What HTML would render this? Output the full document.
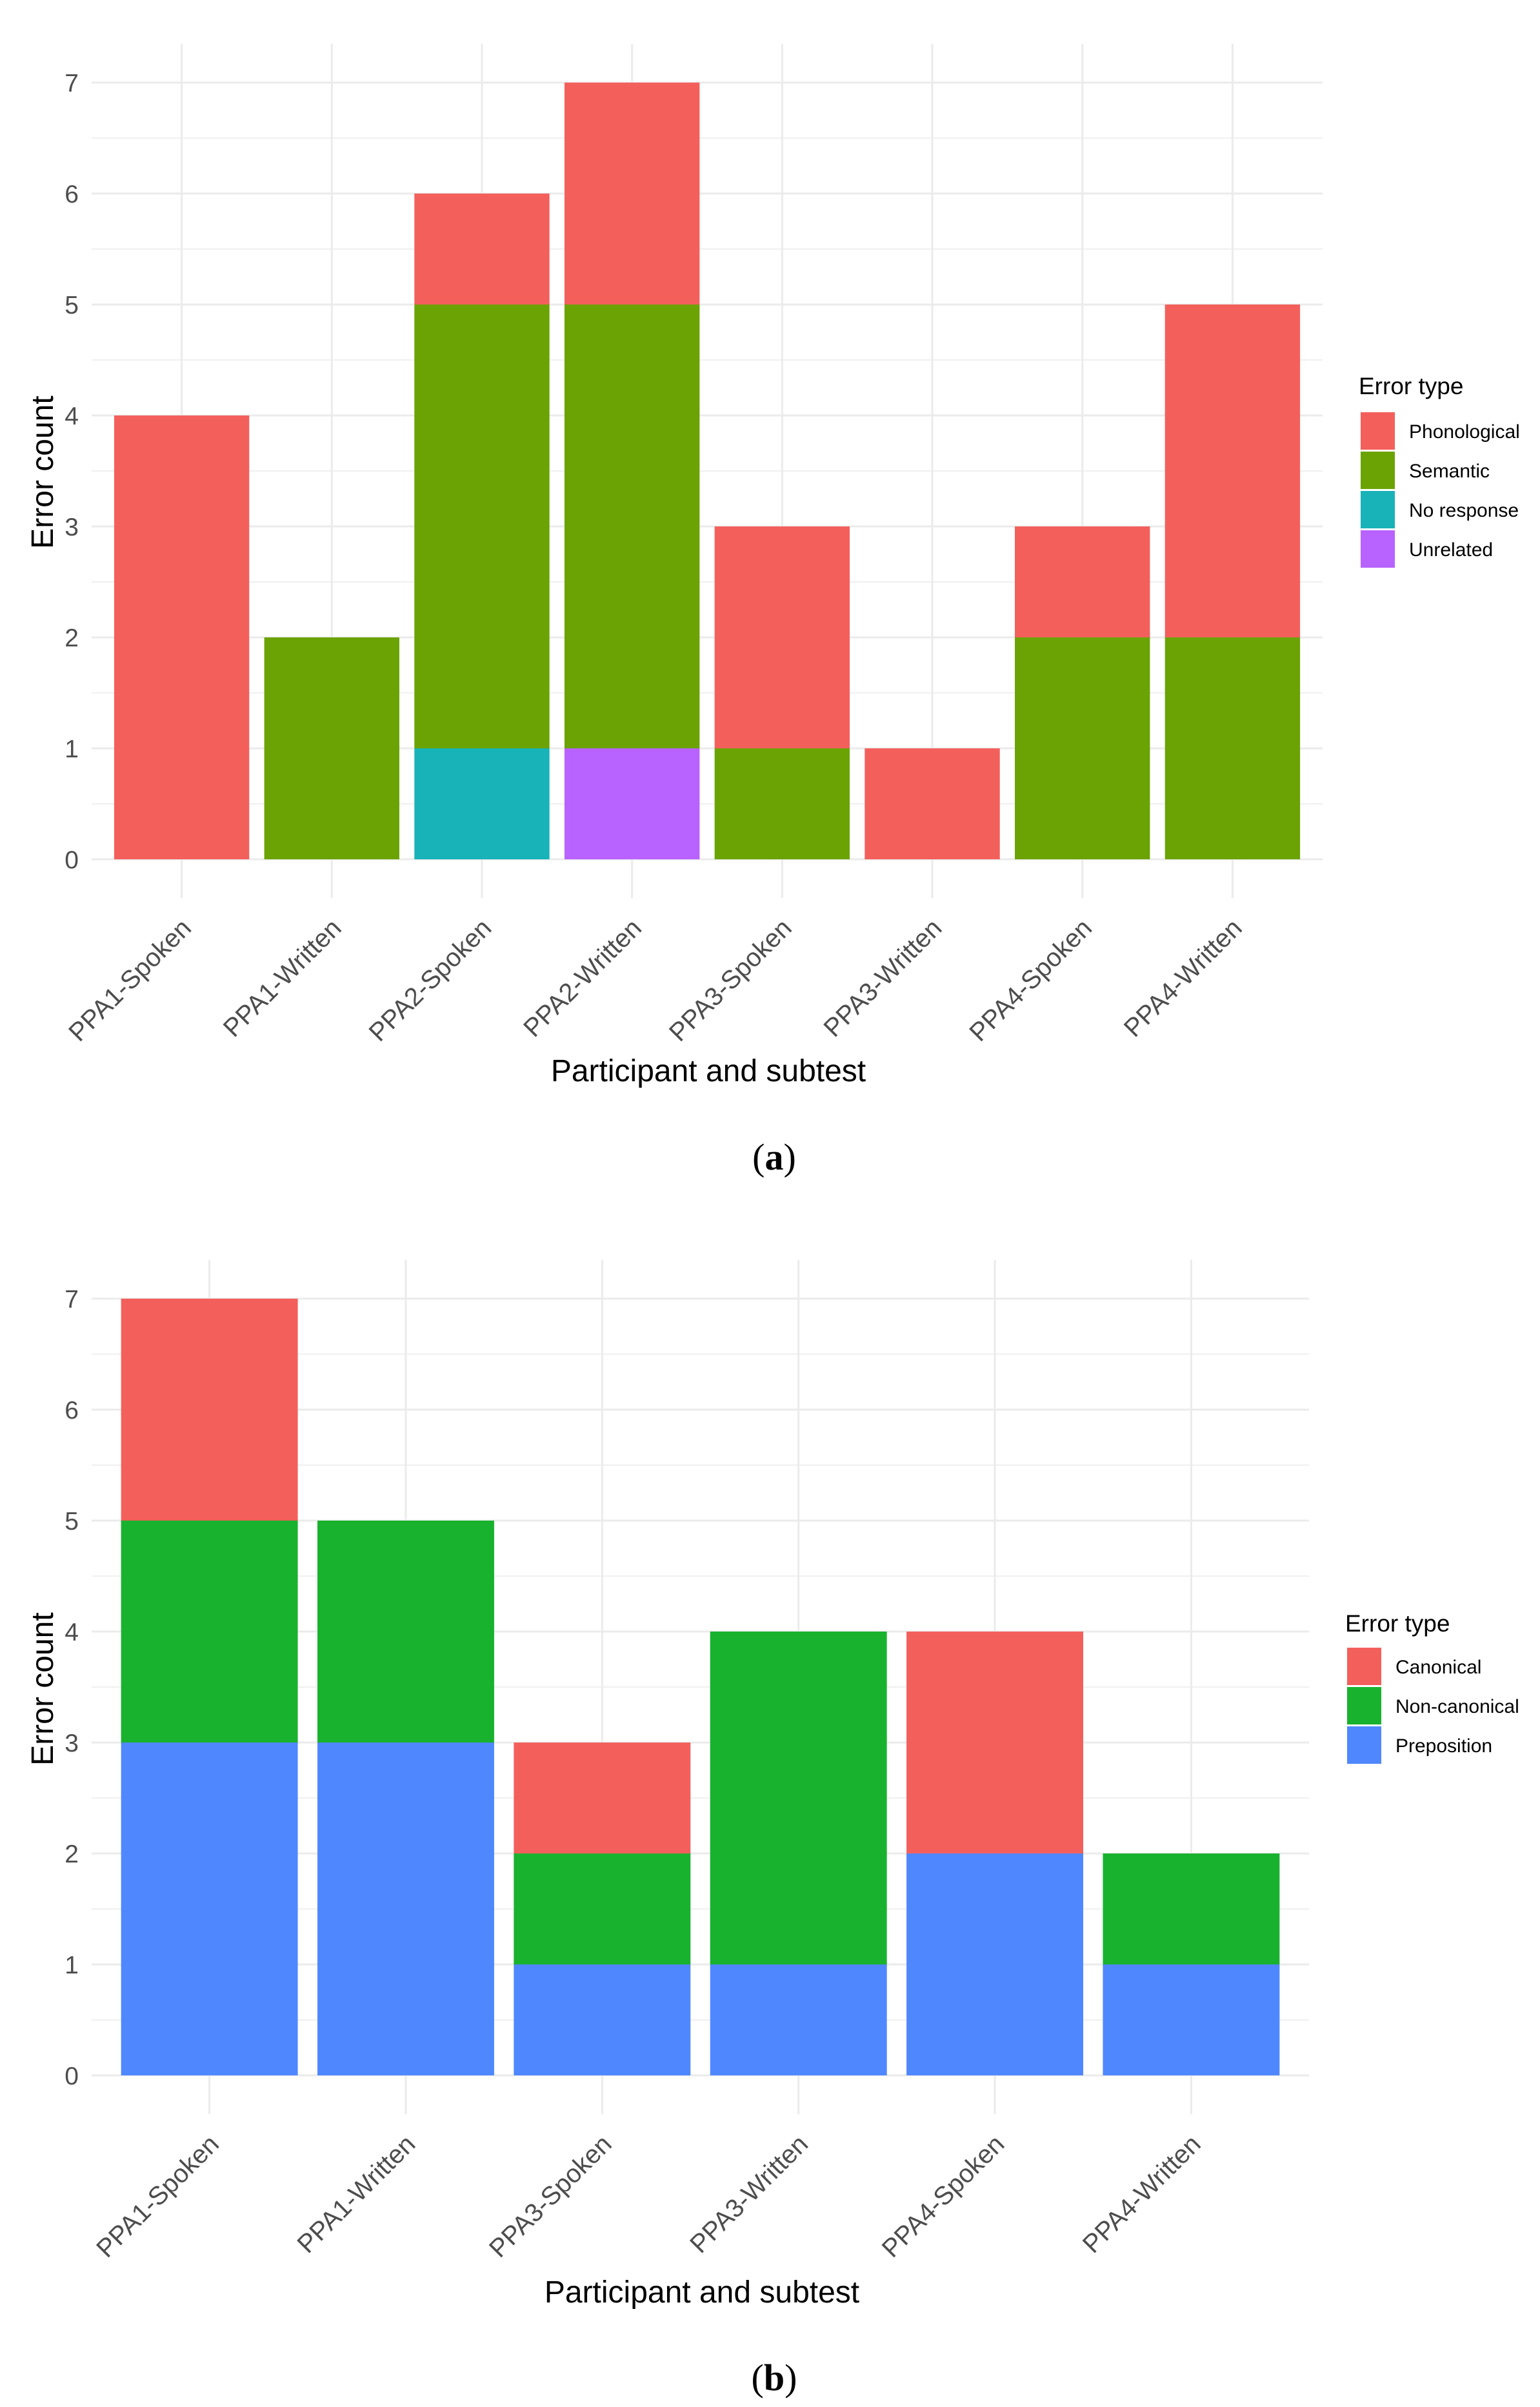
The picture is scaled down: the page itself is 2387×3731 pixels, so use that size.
<!DOCTYPE html>
<html><head><meta charset="utf-8"><style>
html,body{margin:0;padding:0;background:#fff;}
svg{display:block;font-family:"Liberation Sans",Arial,sans-serif;}
</style></head><body>
<svg id="fig" width="2387" height="3731" viewBox="0 0 2387 3731" xmlns="http://www.w3.org/2000/svg"></svg>
<script>
// Chart (a) data
const catsA = ["PPA1-Spoken","PPA1-Written","PPA2-Spoken","PPA2-Written","PPA3-Spoken","PPA3-Written","PPA4-Spoken","PPA4-Written"];
const seriesNamesA = ["Phonological","Semantic","No response","Unrelated"];
const phonologicalA = [4,0,1,2,2,1,1,3];
const semanticA = [0,2,4,4,1,0,2,2];
const noResponseA = [0,0,1,0,0,0,0,0];
const unrelatedA = [0,0,0,1,0,0,0,0];
// Chart (b) data
const catsB = ["PPA1-Spoken","PPA1-Written","PPA3-Spoken","PPA3-Written","PPA4-Spoken","PPA4-Written"];
const seriesNamesB = ["Canonical","Non-canonical","Preposition"];
const canonicalB = [2,0,1,0,2,0];
const nonCanonicalB = [2,2,1,3,0,1];
const prepositionB = [3,3,1,1,2,1];
const yTicks = [0,1,2,3,4,5,6,7];

const NS = "http://www.w3.org/2000/svg";
const svg = document.getElementById('fig');
function mk(tag, attrs, parent, text){
  const e = document.createElementNS(NS, tag);
  for (const k in attrs) e.setAttribute(k, attrs[k]);
  if (text !== undefined) e.textContent = text;
  (parent||svg).appendChild(e);
  return e;
}

function drawChart(opt){
  const g = mk('g', {});
  
  
  const n = opt.cats.length;
  const L = 142, R = opt.right, top = opt.top, zeroY = opt.zeroY, unit = 172;
  const yMin = -0.35, yMax = 7.35;
  const y = v => zeroY - v*unit;
  const band = (R - L) / (n + 0.2);
  const x = i => L + band*(0.6 + i);
  const bw = band*0.9;
  const bottom = y(yMin), topY = y(yMax);
  // minor gridlines
  for (let t = 0.5; t < 7; t += 1){
    const ln = mk('line', {x1:L, x2:R, y1:y(t), y2:y(t), stroke:'#ebebeb', 'stroke-width':1.6}, g);
    
    
  }
  // major gridlines
  yTicks.forEach(t => {
    const ln = mk('line', {x1:L, x2:R, y1:y(t), y2:y(t), stroke:'#ebebeb', 'stroke-width':3}, g);
    
    
    const tx = mk('text', {x:122, y:y(t)+14, 'text-anchor':'end', 'font-size':39, fill:'#4d4d4d'}, g, String(t));
    
    
  });
  opt.cats.forEach((c, i) => {
    const ln = mk('line', {x1:x(i), x2:x(i), y1:topY, y2:bottom, stroke:'#ebebeb', 'stroke-width':3}, g);
    
    
  });
  // bars stacked bottom->top
  opt.cats.forEach((c, i) => {
    let acc = 0;
    opt.stack.forEach(s => {
      const v = s.values[i];
      if (v > 0){
        const r = mk('rect', {x:x(i)-bw/2, y:y(acc+v), width:bw, height:v*unit, fill:s.color}, g);
        
        
      }
      acc += v;
    });
    const ex = x(i)+17, ey = zeroY+109;
    const tl = mk('text', {x:ex, y:ey, 'text-anchor':'end', 'font-size':40, fill:'#4d4d4d', transform:`rotate(-45 ${ex} ${ey})`}, g, c);
    
    
  });
  // axis titles
  const yt = mk('text', {x:0, y:0, 'text-anchor':'middle', 'font-size':48, fill:'#000', transform:`translate(82 ${opt.yTitleY}) rotate(-90)`}, g, 'Error count');
  
  
  const xt = mk('text', {x:opt.xTitleX, y:opt.xTitleY+17, 'text-anchor':'middle', 'font-size':48, fill:'#000'}, g, 'Participant and subtest');
  
  
  // legend
  const lg = mk('g', {}, g);
  
  
  const lt = mk('text', {x:opt.legX-3, y:opt.legTitleY+13, 'font-size':37, fill:'#000'}, lg, 'Error type');
  
  
  opt.legend.forEach((s, k) => {
    const ky = opt.legKeyY + k*61;
    const kr = mk('rect', {x:opt.legX, y:ky, width:53, height:58, fill:s.color}, lg);
    
    
    const kt = mk('text', {x:opt.legX+75, y:ky+40, 'font-size':30, fill:'#000'}, lg, s.name);
    
    
  });
}

const cA = {red:'#f3605c', green:'#6ba304', teal:'#18b3b8', purple:'#b862ff'};
drawChart({
  name:'chart-a', cats:catsA, right:2050, top:68, zeroY:1332,
  stack:[{values:unrelatedA,color:cA.purple},{values:noResponseA,color:cA.teal},{values:semanticA,color:cA.green},{values:phonologicalA,color:cA.red}],
  legend:[{name:seriesNamesA[0],color:cA.red},{name:seriesNamesA[1],color:cA.green},{name:seriesNamesA[2],color:cA.teal},{name:seriesNamesA[3],color:cA.purple}],
  yTitleY:732, xTitleX:1098, xTitleY:1659, legX:2109, legTitleY:598, legKeyY:639
});
const cB = {red:'#f3605c', green:'#19b22e', blue:'#4f87ff'};
drawChart({
  name:'chart-b', cats:catsB, right:2029, top:1954, zeroY:3217,
  stack:[{values:prepositionB,color:cB.blue},{values:nonCanonicalB,color:cB.green},{values:canonicalB,color:cB.red}],
  legend:[{name:seriesNamesB[0],color:cB.red},{name:seriesNamesB[1],color:cB.green},{name:seriesNamesB[2],color:cB.blue}],
  yTitleY:2618, xTitleX:1088, xTitleY:3552, legX:2088, legTitleY:2516, legKeyY:2554
});

const capA = mk('text', {x:1200, y:1813, 'text-anchor':'middle', 'font-size':58, 'font-family':'"Liberation Serif",serif'}, svg);


mk('tspan', {}, capA, '(');
mk('tspan', {'font-weight':'bold'}, capA, 'a');
mk('tspan', {}, capA, ')');
const capB = mk('text', {x:1200, y:3705, 'text-anchor':'middle', 'font-size':58, 'font-family':'"Liberation Serif",serif'}, svg);


mk('tspan', {}, capB, '(');
mk('tspan', {'font-weight':'bold'}, capB, 'b');
mk('tspan', {}, capB, ')');
</script>
</body></html>
